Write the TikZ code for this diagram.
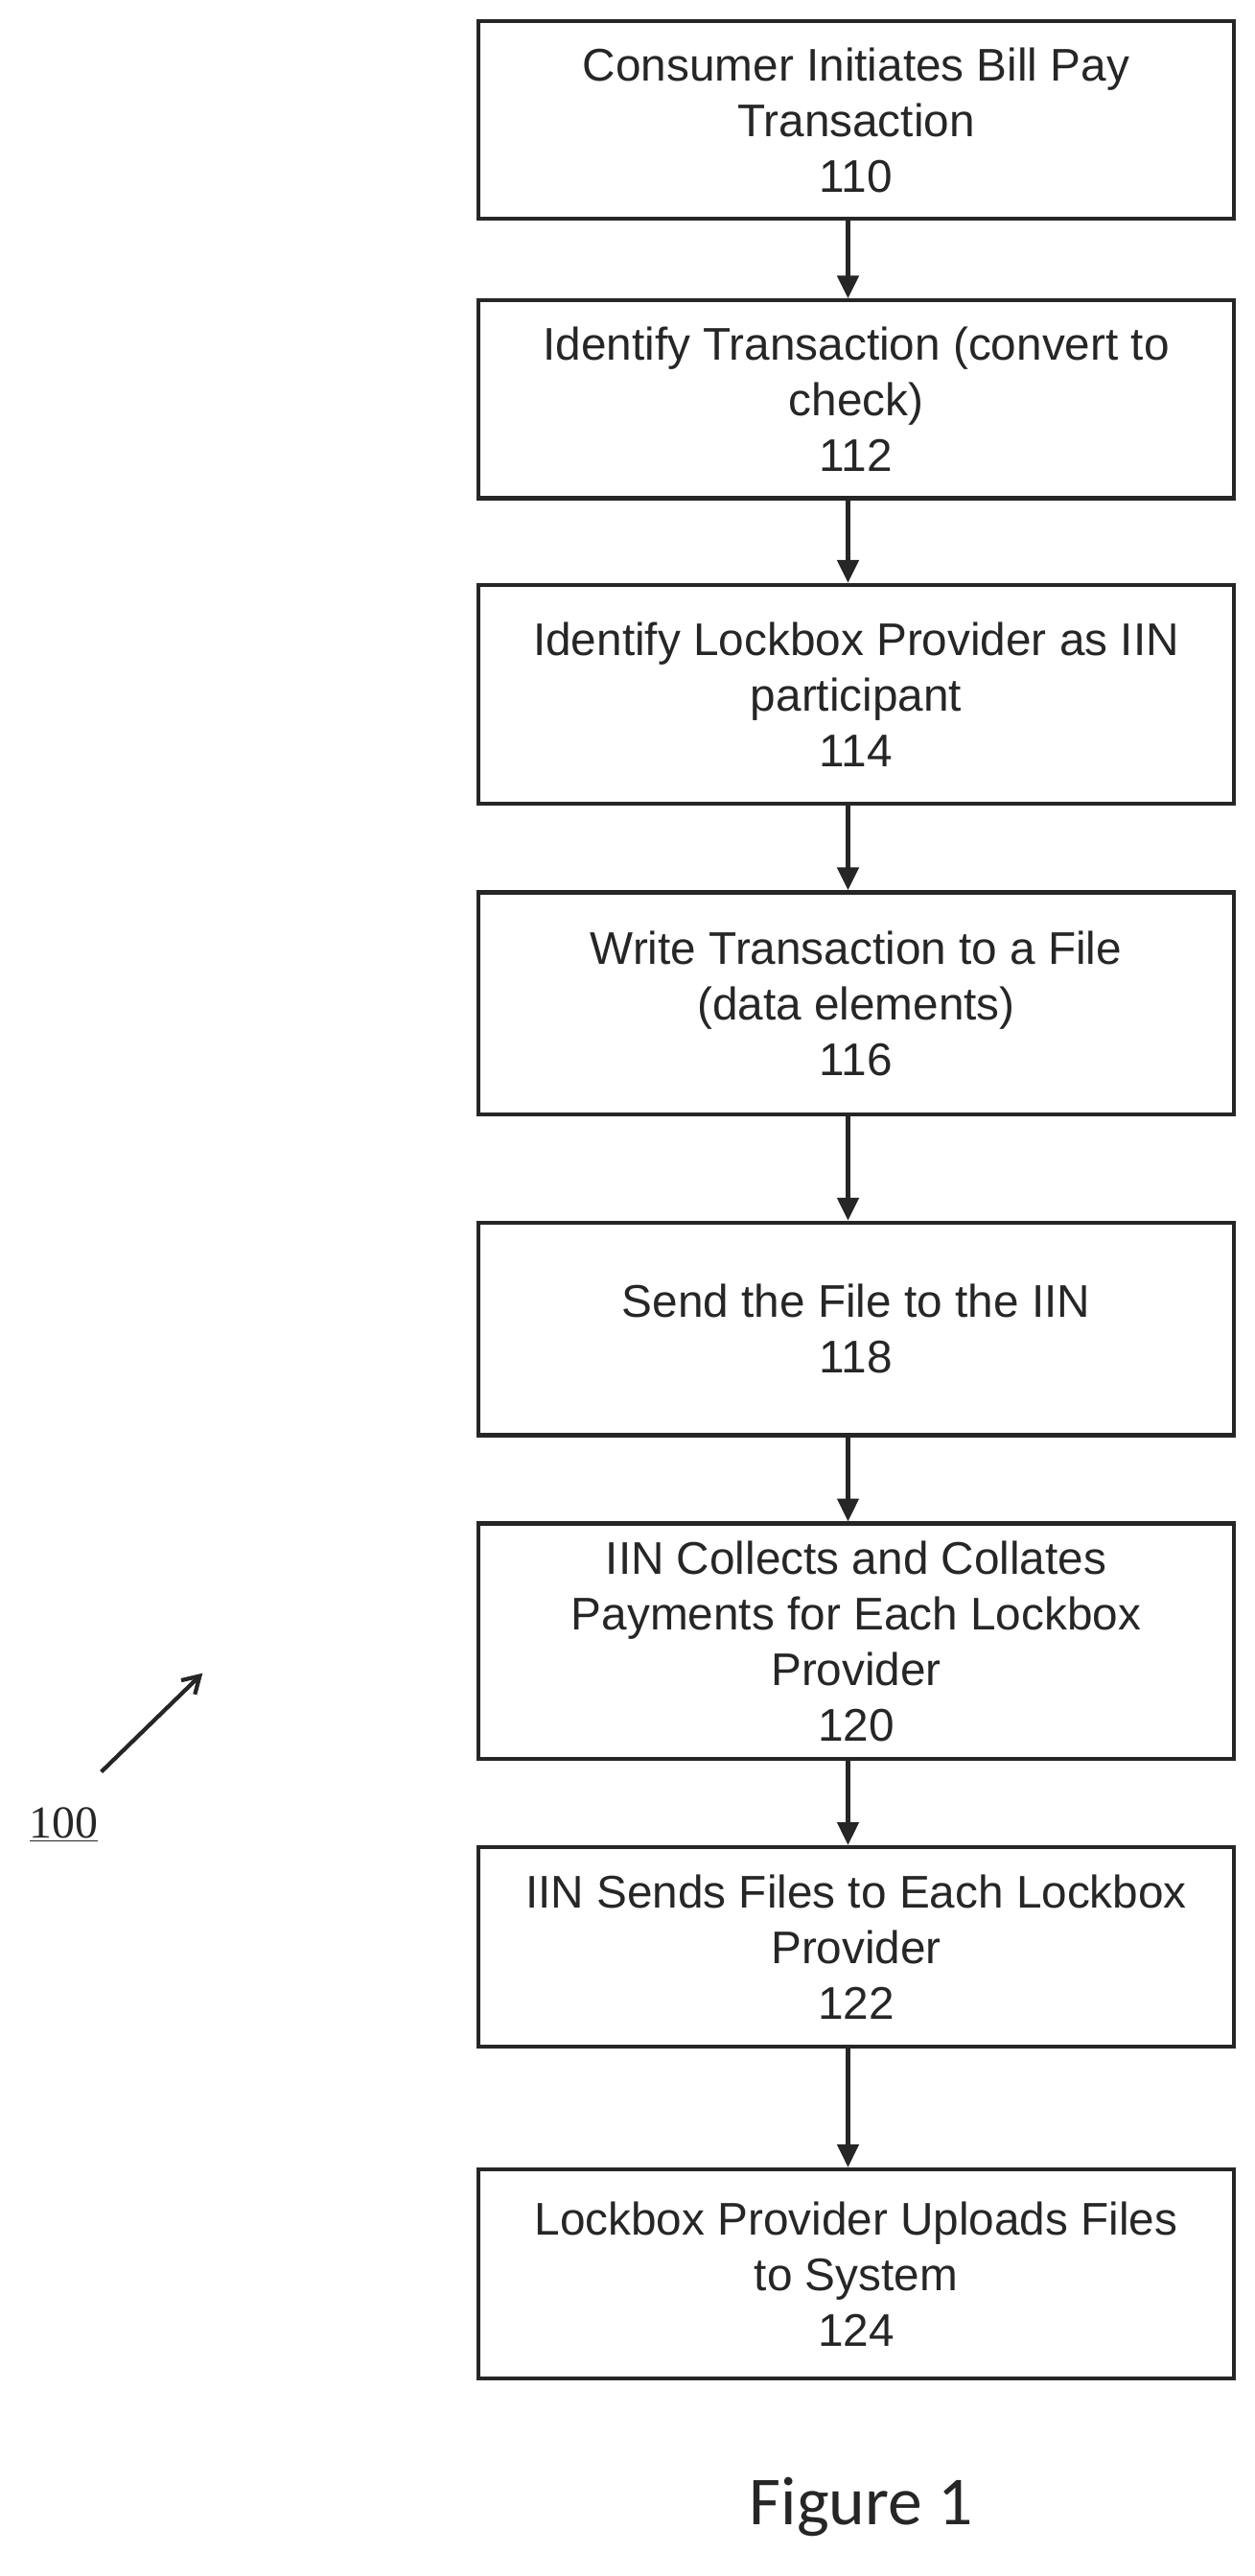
\documentclass[tikz,border=0pt]{standalone}
\usepackage{fontspec}
\setmainfont{Liberation Sans}
\newfontfamily\figfont{Carlito}
\newfontfamily\serfont{Liberation Serif}
\usetikzlibrary{arrows.meta}
\begin{document}
\begin{tikzpicture}[x=1pt,y=-1.0056pt,
  box/.style={draw=black!85,line width=2.5pt,minimum width=462pt,align=center,inner sep=0pt,
    font=\fontsize{28}{34}\selectfont,text=black!85},
  arr/.style={draw=black!85,line width=2.5pt,-{Triangle[length=14pt,width=13pt]}}]
\useasboundingbox (0,0) rectangle (768,1567.3);
\node[box,minimum height=121pt] (b1) at (524,73) {Consumer Initiates Bill Pay\\Transaction\\110};
\node[box,minimum height=121pt] (b2) at (524,243) {Identify Transaction (convert to\\check)\\112};
\node[box,minimum height=134pt] (b3) at (524,422.5) {Identify Lockbox Provider as IIN\\participant\\114};
\node[box,minimum height=136pt] (b4) at (524,610.5) {Write Transaction to a File\\(data elements)\\116};
\node[box,minimum height=130pt] (b5) at (524,808.5) {Send the File to the IIN\\118};
\node[box,minimum height=144pt] (b6) at (524,998.5) {IIN Collects and Collates\\Payments for Each Lockbox\\Provider\\120};
\node[box,minimum height=122pt] (b7) at (524,1184.5) {IIN Sends Files to Each Lockbox\\Provider\\122};
\node[box,minimum height=128pt] (b8) at (524,1383.5) {Lockbox Provider Uploads Files\\to System\\124};
\foreach \a/\b in {b1/b2,b2/b3,b3/b4,b4/b5,b5/b6,b6/b7,b7/b8}
  \draw[arr] (\a.south -| 519,0) -- (\b.north -| 519,0);
\node[font=\serfont\fontsize{28}{30}\selectfont,text=black!85] (lbl) at (39,1110) {\underline{100}};
\coordinate (tip) at (124,1018);
\draw[line width=2.5pt,draw=black!85,-{Straight Barb[length=10pt,width=12pt]}] (62,1078) -- (tip);
\node[font=\figfont\fontsize{42}{46}\selectfont,text=black!85] (fig) at (527,1525) {Figure 1};
\end{tikzpicture}
\end{document}
